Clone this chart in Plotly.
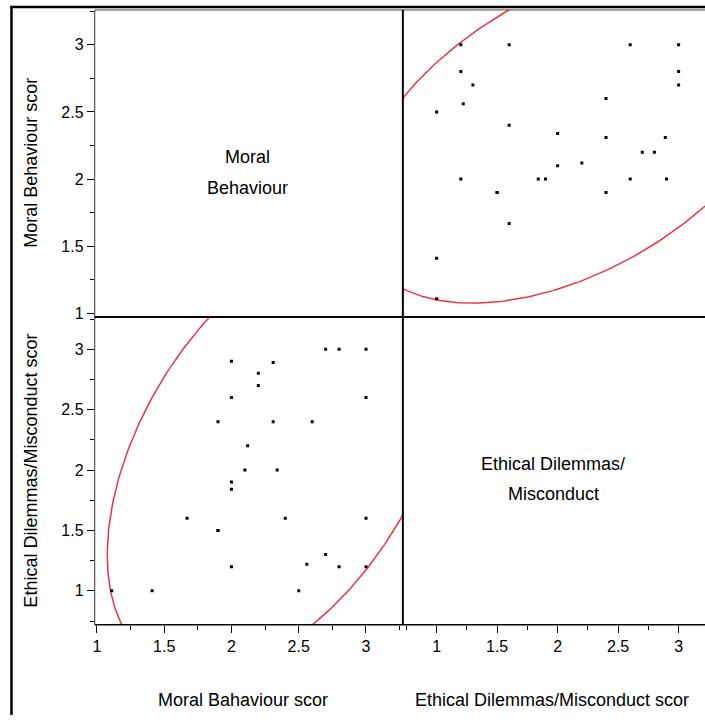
import numpy as np
import plotly.graph_objects as go

# Data (read from the scatterplot matrix)
moral = [3.0, 3.0, 3.0, 3.0, 2.8, 2.8, 2.7, 2.7, 2.6, 2.56, 2.5, 2.4, 2.34, 2.31, 2.31,
         2.2, 2.2, 2.1, 2.12, 2.0, 2.0, 2.0, 2.0, 2.0, 1.9, 1.9, 1.9, 1.67, 1.41, 1.11]
ethical = [1.2, 1.6, 2.6, 3.0, 1.2, 3.0, 1.3, 3.0, 2.4, 1.22, 1.0, 1.6, 2.0, 2.4, 2.89,
           2.7, 2.8, 2.0, 2.2, 1.2, 1.84, 1.9, 2.6, 2.9, 1.5, 1.5, 2.4, 1.6, 1.0, 1.0]
tick_vals = [1, 1.5, 2, 2.5, 3]
tick_text = ["1", "1.5", "2", "2.5", "3"]

# bivariate-normal density ellipse parameters
ell_mean = [2.35, 2.13]      # Moral, Ethical
ell_sd = [0.52, 0.74]        # Moral, Ethical
ell_corr = 0.46
ellipse_level = 0.95

W, H = 705, 720
def px(x):
    return x / W
def py(y):
    return 1 - y / H

m = np.array(ell_mean)
cov = np.array([[ell_sd[0] ** 2, ell_corr * ell_sd[0] * ell_sd[1]],
                [ell_corr * ell_sd[0] * ell_sd[1], ell_sd[1] ** 2]])
L = np.linalg.cholesky(cov)
c = -2 * np.log(1 - ellipse_level)
t = np.linspace(0, 2 * np.pi, 361)
pts = m[:, None] + np.sqrt(c) * L @ np.vstack([np.cos(t), np.sin(t)])
ell_m, ell_e = pts[0], pts[1]

RED = "#e8344a"
fig = go.Figure()
# bottom-left: x = Moral, y = Ethical
fig.add_trace(go.Scatter(x=ell_m, y=ell_e, mode="lines", line=dict(color=RED, width=1.5),
                         xaxis="x", yaxis="y", hoverinfo="skip"))
fig.add_trace(go.Scatter(x=moral, y=ethical, mode="markers",
                         marker=dict(symbol="square", size=3, color="black", line=dict(width=0)),
                         xaxis="x", yaxis="y"))
# top-right: x = Ethical, y = Moral
fig.add_trace(go.Scatter(x=ell_e, y=ell_m, mode="lines", line=dict(color=RED, width=1.5),
                         xaxis="x2", yaxis="y2", hoverinfo="skip"))
fig.add_trace(go.Scatter(x=ethical, y=moral, mode="markers",
                         marker=dict(symbol="square", size=3, color="black", line=dict(width=0)),
                         xaxis="x2", yaxis="y2"))

FONT = "Liberation Sans, Arial, sans-serif"
tickfont = dict(family=FONT, size=16, color="black")
common = dict(tickmode="array", tickvals=tick_vals, ticktext=tick_text, ticks="outside",
              ticklen=7, tickwidth=1, tickcolor="black", tickfont=tickfont,
              showgrid=False, zeroline=False, showline=False,
              minor=dict(ticks="outside", ticklen=4, tickwidth=1, tickcolor="black",
                         dtick=0.25, tick0=0, showgrid=False))

L_x0, L_x1, R_x1 = 93, 402, 705
T_y0, T_y1, B_y1 = 10, 319.3, 629

fig.update_layout(
    width=W, height=H, margin=dict(l=0, r=0, t=0, b=0),
    paper_bgcolor="white", plot_bgcolor="white", showlegend=False,
    font=dict(family=FONT, color="black"),
    xaxis=dict(domain=[px(L_x0), px(L_x1)], range=[0.984, 3.274], anchor="y", **common),
    xaxis2=dict(domain=[px(L_x1), 1], range=[0.721, 3.218], anchor="y", **common),
    yaxis=dict(domain=[py(B_y1), py(T_y1)], range=[0.72, 3.266], anchor="x", **common),
    yaxis2=dict(domain=[py(T_y1), py(T_y0)], range=[0.973, 3.259], anchor="x", **common),
)

shapes = []
def line(x0, y0, x1, y1, w=1, col="black"):
    shapes.append(dict(type="line", xref="paper", yref="paper",
                       x0=px(x0), y0=py(y0), x1=px(x1), y1=py(y1),
                       line=dict(color=col, width=w)))
# outer frame
line(9.5, 6, 9.5, 720, 2.5)
line(8.5, 7, 705, 7, 2.5)
# panel grid
line(L_x0, T_y0, R_x1, T_y0, 1, "#444")
line(L_x0, T_y0, L_x0, B_y1, 1, "#333")
line(L_x0, B_y1, R_x1, B_y1, 1.5)
line(L_x1, T_y0, L_x1, B_y1, 2)
line(L_x0, T_y1, R_x1, T_y1, 2)
fig.update_layout(shapes=shapes)

ann = []
def text(s, x, y, size=18, angle=0):
    ann.append(dict(text=s, x=px(x), y=py(y), xref="paper", yref="paper",
                    showarrow=False, textangle=angle, xanchor="center", yanchor="middle",
                    font=dict(family=FONT, size=size, color="black")))
text("Moral", 246, 158)
text("Behaviour", 246, 189)
text("Ethical Dilemmas/", 553, 467)
text("Misconduct", 553, 497)
text("Moral Behaviour scor", 29, 164, angle=-90)
text("Ethical Dilemmas/Misconduct scor", 29, 474, angle=-90)
text("Moral Bahaviour scor", 242, 705)
text("Ethical Dilemmas/Misconduct scor", 552, 705)
fig.update_layout(annotations=ann)

fig.write_html("out.html")
